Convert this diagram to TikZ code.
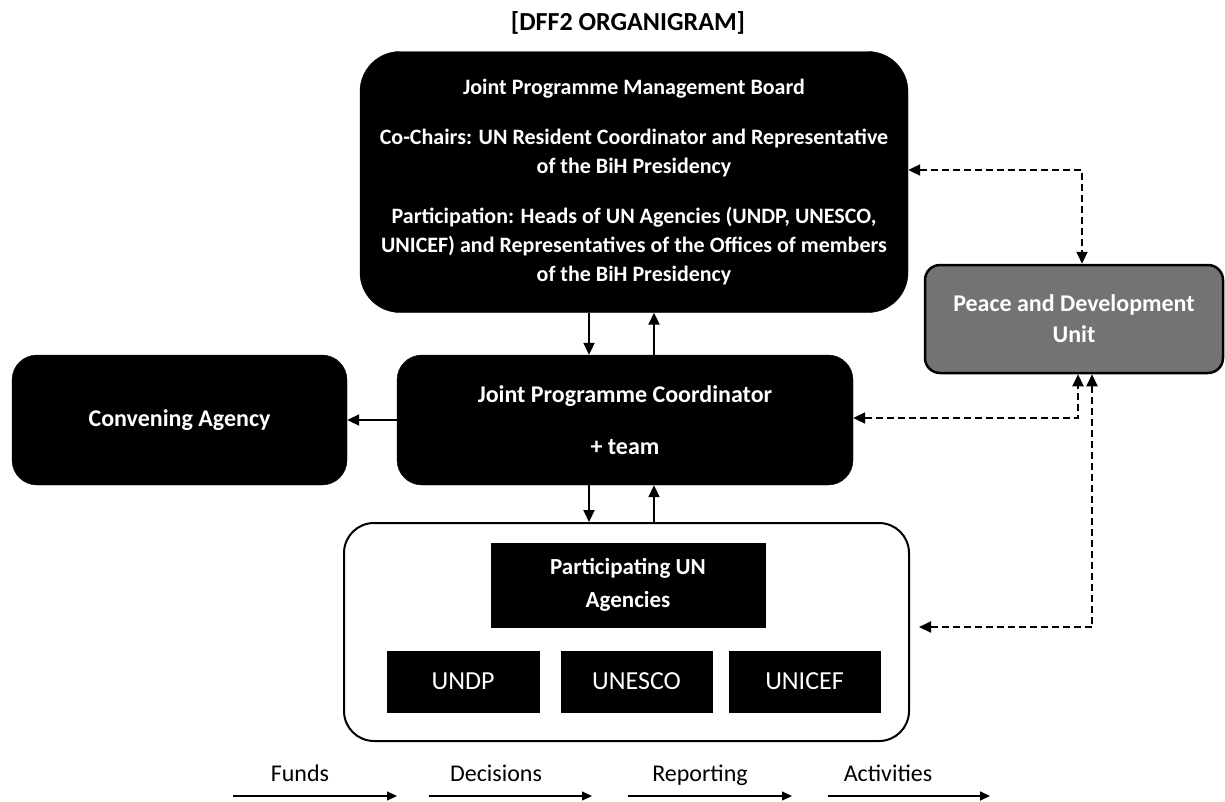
\documentclass[tikz,border=0pt]{standalone}
\usepackage{fontspec}
\setmainfont{Carlito}
\usetikzlibrary{arrows.meta}
\begin{document}
\begin{tikzpicture}[x=1pt,y=-1pt,
  darkbox/.style={draw=black, fill=black, text=white, align=center, inner sep=0pt,
    font=\bfseries\fontsize{24}{29}\selectfont},
  agencybox/.style={draw=black, fill=black, text=white, inner sep=0pt,
    minimum width=151pt, minimum height=61pt, font=\fontsize{26}{30}\selectfont},
  conn/.style={line width=2pt, -{Triangle[length=12pt,width=11pt]}},
  dconn/.style={line width=2pt, dash pattern=on 7pt off 4pt,
    {Triangle[length=12pt,width=11pt]}-{Triangle[length=12pt,width=11pt]}},
  legarrow/.style={line width=1.2pt, -{Triangle[length=10pt,width=9pt]}},
  legtext/.style={font=\fontsize{24}{28}\selectfont, inner sep=0pt, anchor=base}
]
\useasboundingbox (0,0) rectangle (1225,801);

% title
\node[font=\bfseries\fontsize{26}{30}\selectfont, inner sep=0pt] (title) at (628,23) {[DFF2 ORGANIGRAM]};

% board
\node[darkbox, rounded corners=40pt, minimum width=548pt, minimum height=261pt,
      font=\bfseries\fontsize{22}{29}\selectfont] (board) at (634,182)
  {Joint Programme Management Board\\[21pt]
   Co-Chairs: UN Resident Coordinator and Representative\\
   of the BiH Presidency\\[21pt]
   Participation: Heads of UN Agencies (UNDP, UNESCO,\\
   UNICEF) and Representatives of the Offices of members\\
   of the BiH Presidency};

% coordinator
\node[darkbox, rounded corners=25pt, minimum width=456pt, minimum height=130pt] (coord) at (625,420)
  {Joint Programme Coordinator\\[23pt]+ team};

% convening agency
\node[darkbox, rounded corners=25pt, minimum width=335pt, minimum height=130pt] (conv) at (179.5,420)
  {Convening Agency};

% peace and development unit
\node[darkbox, fill=black!55, line width=2.5pt, rounded corners=15pt,
      minimum width=298pt, minimum height=108pt,
      font=\bfseries\fontsize{24}{31}\selectfont] (pdu) at (1074,319)
  {Peace and Development\\Unit};

% participating agencies group
\node[draw=black, fill=white, line width=2pt, rounded corners=30pt,
      minimum width=565pt, minimum height=218pt, inner sep=0pt] (outer) at (626.5,632) {};
\node[darkbox, minimum width=274pt, minimum height=84pt,
      font=\bfseries\fontsize{23}{33}\selectfont] (part) at (628,585)
  {Participating UN\\Agencies};
\node[agencybox, minimum width=152pt] (undp) at (463,681.5) {UNDP};
\node[agencybox] (unesco) at (636.5,681.5) {UNESCO};
\node[agencybox] (unicef) at (804.5,681.5) {UNICEF};

% helper x positions
\coordinate (xdown) at (589,0);
\coordinate (xup) at (654,0);

% solid connectors
\draw[conn] (board.south -| xdown) -- (coord.north -| xdown);
\draw[conn] (coord.north -| xup) -- (board.south -| xup);
\draw[conn] (coord.south -| xdown) -- (outer.north -| xdown);
\draw[conn] (outer.north -| xup) -- (coord.south -| xup);
\draw[conn] (coord.west) -- (conv.east);

% dashed connectors to the Peace and Development Unit
\draw[dconn] ([yshift=12pt]board.east) -| ([xshift=8pt]pdu.north);
\draw[dconn] ([yshift=2pt]coord.east) -| ([xshift=4pt]pdu.south);
\draw[dconn] ([xshift=9pt,yshift=5pt]outer.east) -| ([xshift=18pt]pdu.south);

% legend
\node[legtext] (lfunds) at (300,781) {Funds};
\node[legtext] (ldec) at (496,781) {Decisions};
\node[legtext] (lrep) at (700,781) {Reporting};
\node[legtext] (lact) at (888,781) {Activities};
\coordinate (fa) at (233,796); \coordinate (fb) at (397,796);
\coordinate (da) at (429,796); \coordinate (db) at (592,796);
\coordinate (ra) at (628,796); \coordinate (rb) at (792,796);
\coordinate (aa) at (828,796); \coordinate (ab) at (990,796);
\draw[legarrow] (fa) -- (fb);
\draw[legarrow] (da) -- (db);
\draw[legarrow] (ra) -- (rb);
\draw[legarrow, line width=1.8pt] (aa) -- (ab);
\end{tikzpicture}
\end{document}
